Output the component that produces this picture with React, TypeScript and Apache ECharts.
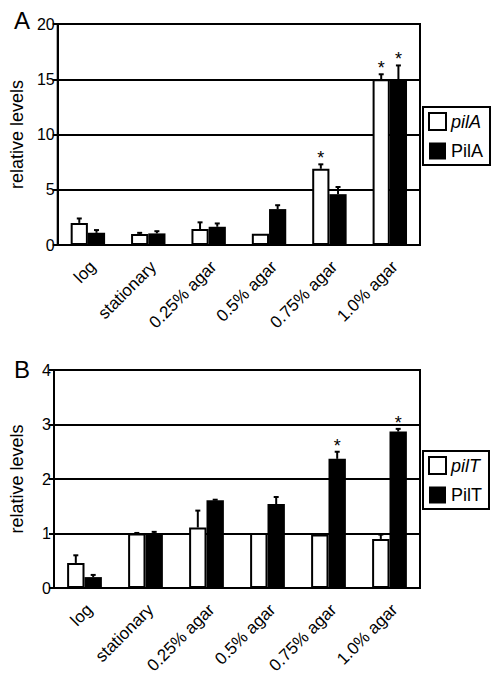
import React, { useEffect, useRef } from "react";
import * as echarts from "echarts";

const categories = ["log", "stationary", "0.25% agar", "0.5% agar", "0.75% agar", "1.0% agar"];

// Panel A
const pilAmRNA = [2.0, 1.0, 1.45, 1.02, 6.9, 15.0];
const pilAmRNAErr = [2.4, 1.1, 2.05, 1.02, 7.3, 15.45];
const pilAmRNAStar = [false, false, false, false, true, true];
const pilAProt = [1.1, 1.05, 1.65, 3.25, 4.6, 14.85];
const pilAProtErr = [1.35, 1.25, 1.95, 3.6, 5.25, 16.25];
const pilAProtStar = [false, false, false, false, false, true];

// Panel B
const pilTmRNA = [0.46, 1.0, 1.11, 1.01, 0.98, 0.9];
const pilTmRNAErr = [0.6, 1.01, 1.42, 1.01, 0.98, 0.98];
const pilTmRNAStar = [false, false, false, false, false, false];
const pilTProt = [0.2, 1.0, 1.61, 1.54, 2.37, 2.87];
const pilTProtErr = [0.24, 1.03, 1.62, 1.67, 2.5, 2.92];
const pilTProtStar = [false, false, false, false, true, true];

const yTicksA = { min: 0, max: 20, interval: 5 };
const yTicksB = { min: 0, max: 4, interval: 1 };

const FONT = "Liberation Sans, Arial, Helvetica, sans-serif";
const BAR_W = 0.285;

function errSeries(name: string, vals: number[], errs: number[], stars: boolean[], side: number, gi: number) {
  return {
    type: "custom",
    name: name + "_err",
    xAxisIndex: gi,
    yAxisIndex: gi,
    z: 5,
    silent: true,
    clip: false,
    encode: { x: 0, y: 2 },
    data: vals.map((v, i) => [i, v, errs[i], stars[i] ? 1 : 0]),
    renderItem: (params: any, api: any) => {
      const i = api.value(0);
      const v = api.value(1);
      const e = api.value(2);
      const s = api.value(3);
      const band = api.size([1, 0])[0];
      const c = api.coord([i, v]);
      const cx = c[0] + side * band * BAR_W / 2;
      const base = c[1];
      const top = api.coord([i, e])[1];
      const children: any[] = [];
      if (base - top > 0.5) {
        children.push({
          type: "line",
          shape: { x1: cx, y1: base, x2: cx, y2: top },
          style: { stroke: "#000", lineWidth: 2 },
        });
        children.push({
          type: "line",
          shape: { x1: cx - 2.5, y1: top, x2: cx + 2.5, y2: top },
          style: { stroke: "#000", lineWidth: 2 },
        });
      }
      if (s) {
        children.push({
          type: "text",
          x: cx,
          y: top - 6,
          style: {
            text: "*",
            fill: "#000",
            font: "18px " + FONT,
            align: "center",
            verticalAlign: "middle",
          },
        });
      }
      return { type: "group", children };
    },
  };
}

function labelSeries(gi: number) {
  return {
    type: "custom",
    name: "labels" + gi,
    xAxisIndex: gi,
    yAxisIndex: gi,
    z: 6,
    silent: true,
    clip: false,
    encode: { x: 0, y: 1 },
    data: categories.map((c, i) => [i, 0, c]),
    renderItem: (params: any, api: any) => {
      const i = api.value(0);
      const p = api.coord([i, 0]);
      return {
        type: "text",
        x: p[0] + 5,
        y: p[1] + 19,
        rotation: Math.PI / 4,
        style: {
          text: categories[i],
          fill: "#000",
          font: "17px " + FONT,
          align: "right",
          verticalAlign: "middle",
        },
      };
    },
  };
}

function barSeries(name: string, vals: number[], white: boolean, gi: number) {
  return {
    type: "bar",
    name,
    xAxisIndex: gi,
    yAxisIndex: gi,
    barWidth: (BAR_W * 100) + "%",
    barGap: "0%",
    data: vals,
    itemStyle: white
      ? { color: "#fff", borderColor: "#000", borderWidth: 2 }
      : { color: "#000", borderColor: "#000", borderWidth: 0 },
  };
}

function legendFor(names: string[], top: number) {
  return {
    orient: "vertical",
    left: 423,
    top,
    padding: [5, 7, 5, 5],
    borderColor: "#000",
    borderWidth: 2,
    itemWidth: 17,
    itemHeight: 17,
    itemGap: 11,
    data: [
      { name: names[0], icon: "rect", itemStyle: { color: "#fff", borderColor: "#000", borderWidth: 2 } },
      { name: names[1], icon: "rect", itemStyle: { color: "#000", borderColor: "#000", borderWidth: 0 } },
    ],
    formatter: (n: string) => (n === names[0] ? "{i|" + n + "}" : "{n|" + n + "}"),
    textStyle: {
      fontFamily: FONT,
      fontSize: 18,
      color: "#000",
      rich: {
        i: { fontStyle: "italic", fontFamily: FONT, fontSize: 18, color: "#000" },
        n: { fontFamily: FONT, fontSize: 18, color: "#000" },
      },
    },
  };
}

function xAxisFor(gi: number) {
  return {
    type: "category",
    gridIndex: gi,
    data: categories,
    axisLine: { lineStyle: { color: "#000", width: 2 } },
    axisTick: { show: false },
    axisLabel: { show: false },
  };
}

function yAxisFor(gi: number, t: { min: number; max: number; interval: number }) {
  return {
    type: "value",
    gridIndex: gi,
    min: t.min,
    max: t.max,
    interval: t.interval,
    name: "relative levels",
    nameLocation: "middle",
    nameGap: 28,
    nameTextStyle: { color: "#000", fontFamily: FONT, fontSize: 18 },
    axisLine: { show: true, lineStyle: { color: "#000", width: 2 } },
    axisTick: { show: true, length: 5, lineStyle: { color: "#000", width: 2 } },
    axisLabel: { color: "#000", fontFamily: FONT, fontSize: 16, margin: 3 },
    splitLine: { show: true, lineStyle: { color: "#000", width: 2 } },
  };
}

export default function App() {
  const ref = useRef<HTMLDivElement>(null);
  useEffect(() => {
    if (!ref.current) return;
    const chart = echarts.init(ref.current, undefined, { renderer: "svg" });
    chart.setOption({
      animation: false,
      backgroundColor: "#fff",
      textStyle: { fontFamily: FONT },
      title: [
        { text: "A", left: 9, top: 3, textStyle: { fontFamily: FONT, fontSize: 24, fontWeight: "normal", color: "#000" } },
        { text: "B", left: 9, top: 352, textStyle: { fontFamily: FONT, fontSize: 24, fontWeight: "normal", color: "#000" } },
      ],
      grid: [
        { left: 54, top: 24, width: 366, height: 221, show: true, borderColor: "#000", borderWidth: 2, backgroundColor: "transparent" },
        { left: 54, top: 370, width: 366, height: 218, show: true, borderColor: "#000", borderWidth: 2, backgroundColor: "transparent" },
      ],
      legend: [legendFor(["pilA", "PilA"], 107), legendFor(["pilT", "PilT"], 451)],
      xAxis: [xAxisFor(0), xAxisFor(1)],
      yAxis: [yAxisFor(0, yTicksA), yAxisFor(1, yTicksB)],
      series: [
        barSeries("pilA", pilAmRNA, true, 0),
        barSeries("PilA", pilAProt, false, 0),
        errSeries("pilA", pilAmRNA, pilAmRNAErr, pilAmRNAStar, -1, 0),
        errSeries("PilA", pilAProt, pilAProtErr, pilAProtStar, 1, 0),
        labelSeries(0),
        barSeries("pilT", pilTmRNA, true, 1),
        barSeries("PilT", pilTProt, false, 1),
        errSeries("pilT", pilTmRNA, pilTmRNAErr, pilTmRNAStar, -1, 1),
        errSeries("PilT", pilTProt, pilTProtErr, pilTProtStar, 1, 1),
        labelSeries(1),
      ],
    });
    return () => chart.dispose();
  }, []);
  return (
    <div
      ref={ref}
      style={{ position: "absolute", left: 0, top: 0, width: 499, height: 687, background: "#fff" }}
    />
  );
}
